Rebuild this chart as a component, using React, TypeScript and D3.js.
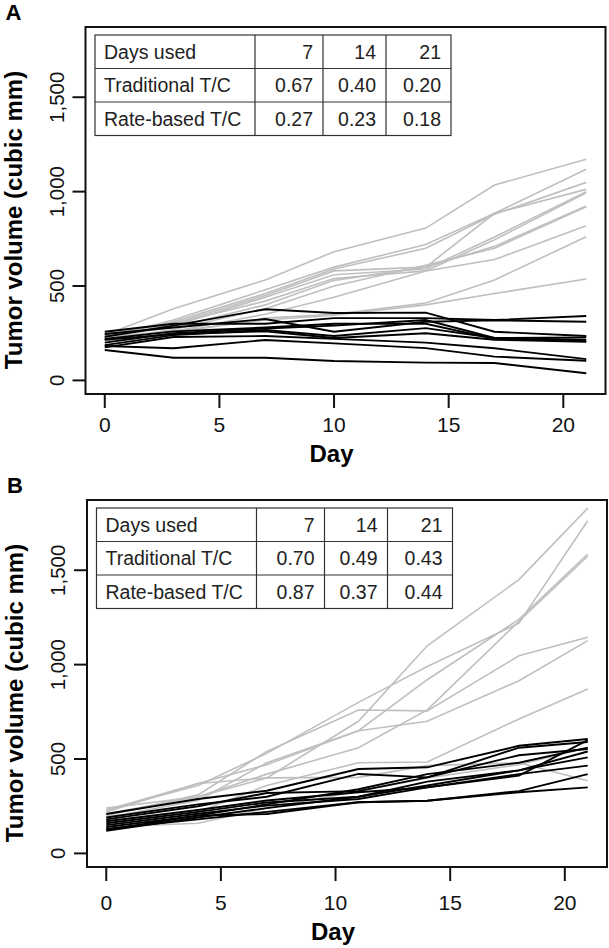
import React from "react";
import * as d3 from "d3";

// ---------- data ----------
const daysA = [0, 3, 7, 10, 14, 17, 21];
const daysB = [0, 4, 7, 11, 14, 18, 21];

const controlA: number[][] = [
  [240, 380, 532, 682, 807, 1035, 1171],
  [230, 320, 480, 600, 720, 885, 1118],
  [235, 310, 460, 590, 700, 880, 1049],
  [245, 300, 450, 580, 600, 885, 1012],
  [220, 290, 440, 560, 590, 760, 999],
  [225, 300, 420, 540, 580, 745, 994],
  [240, 280, 400, 530, 600, 710, 924],
  [215, 270, 380, 500, 610, 700, 920],
  [230, 260, 350, 440, 580, 640, 819],
  [210, 250, 330, 350, 410, 532, 761],
  [225, 260, 320, 345, 400, 460, 537],
];

const treatedA: number[][] = [
  [231, 290, 377, 357, 359, 258, 235],
  [246, 280, 325, 258, 311, 318, 311],
  [258, 300, 300, 330, 330, 320, 341],
  [219, 260, 280, 300, 300, 220, 208],
  [187, 240, 267, 235, 277, 225, 228],
  [175, 230, 235, 220, 200, 170, 113],
  [161, 120, 120, 103, 94, 92, 38],
  [182, 170, 214, 196, 171, 126, 104],
  [200, 250, 275, 290, 320, 225, 215],
  [215, 245, 260, 225, 250, 215, 205],
];

const controlB: number[][] = [
  [240, 300, 400, 700, 1100, 1450, 1829],
  [230, 360, 530, 800, 990, 1220, 1762],
  [220, 370, 470, 650, 920, 1240, 1586],
  [210, 300, 420, 560, 760, 1230, 1574],
  [200, 310, 540, 760, 755, 1047, 1145],
  [190, 280, 480, 650, 700, 915, 1127],
  [170, 220, 360, 480, 484, 712, 871],
  [230, 370, 400, 403, 465, 480, 385],
  [140, 160, 240, 330, 400, 470, 560],
];

const treatedB: number[][] = [
  [209, 288, 332, 447, 456, 570, 606],
  [190, 260, 300, 421, 403, 560, 590],
  [180, 250, 320, 330, 403, 520, 553],
  [170, 230, 280, 324, 350, 412, 600],
  [160, 220, 270, 300, 380, 440, 509],
  [150, 210, 253, 288, 350, 420, 465],
  [140, 200, 209, 271, 279, 324, 350],
  [130, 180, 220, 271, 279, 330, 420],
  [125, 200, 260, 340, 420, 480, 560],
  [120, 190, 240, 300, 360, 440, 540],
];

const xTicks = [0, 5, 10, 15, 20];
const yTicks = [0, 500, 1000, 1500];

const tableHeader = ["Days used", "7", "14", "21"];
const tableRowNames = ["Traditional T/C", "Rate-based T/C"];
const tableA = [
  ["0.67", "0.40", "0.20"],
  ["0.27", "0.23", "0.18"],
];
const tableB = [
  ["0.70", "0.49", "0.43"],
  ["0.87", "0.37", "0.44"],
];

// ---------- layout ----------
const FONT = "'Liberation Sans', Arial, Helvetica, sans-serif";
const BOX_W = 520;
const BOX_H = 367;
const colW = [160, 68, 63, 65];
const rowH = 33.5;

type PanelProps = {
  ox: number;
  oy: number;
  label: string;
  days: number[];
  control: number[][];
  treated: number[][];
  table: string[][];
  labelGap: number;
};

function Panel({ ox, oy, label, days, control, treated, table, labelGap }: PanelProps) {
  const x = d3.scaleLinear().domain([-0.84, 21.84]).range([ox, ox + BOX_W]);
  const y = d3.scaleLinear().domain([-72, 1872]).range([oy + BOX_H, oy]);
  const line = d3
    .line<number>()
    .x((_, i) => x(days[i]))
    .y((v) => y(v));
  const fmt = d3.format(",");
  const bottom = oy + BOX_H;
  const tx = ox + 9.5;
  const ty = oy + 8;
  const colX: number[] = [tx];
  colW.forEach((w) => colX.push(colX[colX.length - 1] + w));
  const rows = [tableHeader, ...table.map((r, i) => [tableRowNames[i], ...r])];

  return (
    <g>
      <text x={ox - 80} y={oy - 7} fontFamily={FONT} fontWeight="bold" fontSize={22}>
        {label}
      </text>
      {control.map((s, i) => (
        <path key={"c" + i} d={line(s) || ""} fill="none" stroke="#bfbfbf" strokeWidth={1.6} />
      ))}
      {treated.map((s, i) => (
        <path key={"t" + i} d={line(s) || ""} fill="none" stroke="#000" strokeWidth={1.9} />
      ))}
      <rect x={ox} y={oy} width={BOX_W} height={BOX_H} fill="none" stroke="#111" strokeWidth={2} />
      {/* x axis */}
      {xTicks.map((t) => (
        <g key={"x" + t}>
          <line x1={x(t)} x2={x(t)} y1={bottom} y2={bottom + 14} stroke="#111" strokeWidth={2} />
          <text
            x={x(t)}
            y={bottom + labelGap}
            textAnchor="middle"
            fontFamily={FONT}
            fontSize={21}
            fill="#111"
          >
            {t}
          </text>
        </g>
      ))}
      <text
        x={ox + 246}
        y={bottom + labelGap + 30}
        textAnchor="middle"
        fontFamily={FONT}
        fontWeight="bold"
        fontSize={24}
      >
        Day
      </text>
      {/* y axis */}
      {yTicks.map((t) => (
        <g key={"y" + t}>
          <line x1={ox - 13} x2={ox} y1={y(t)} y2={y(t)} stroke="#111" strokeWidth={2} />
          <text
            transform={`translate(${ox - 22},${y(t)}) rotate(-90)`}
            textAnchor="middle"
            fontFamily={FONT}
            fontSize={20.5}
            fill="#111"
          >
            {fmt(t)}
          </text>
        </g>
      ))}
      <text
        transform={`translate(${ox - 64},${oy + 193}) rotate(-90)`}
        textAnchor="middle"
        fontFamily={FONT}
        fontWeight="bold"
        fontSize={24}
      >
        Tumor volume (cubic mm)
      </text>
      {/* table */}
      <rect x={tx} y={ty} width={colX[4] - tx} height={rowH * 3} fill="#fff" stroke="#333" strokeWidth={1.2} />
      {[1, 2].map((r) => (
        <line key={"r" + r} x1={tx} x2={colX[4]} y1={ty + r * rowH} y2={ty + r * rowH} stroke="#333" strokeWidth={1.2} />
      ))}
      {[1, 2, 3].map((c) => (
        <line key={"c" + c} x1={colX[c]} x2={colX[c]} y1={ty} y2={ty + 3 * rowH} stroke="#333" strokeWidth={1.2} />
      ))}
      {rows.map((row, r) =>
        row.map((cell, c) => (
          <text
            key={r + "-" + c}
            x={c === 0 ? colX[0] + 9 : colX[c + 1] - 10}
            y={ty + r * rowH + rowH / 2 + 7}
            textAnchor={c === 0 ? "start" : "end"}
            fontFamily={FONT}
            fontSize={19.5}
            fill="#222"
          >
            {cell}
          </text>
        ))
      )}
    </g>
  );
}

export default function App() {
  return (
    <svg
      width={609}
      height={948}
      style={{ position: "absolute", left: 0, top: 0, background: "#fff" }}
    >
      <rect width={609} height={948} fill="#fff" />
      <Panel ox={85.5} oy={27} label="A" days={daysA} control={controlA} treated={treatedA} table={tableA} labelGap={38} />
      <Panel ox={87} oy={500} label="B" days={daysB} control={controlB} treated={treatedB} table={tableB} labelGap={43} />
    </svg>
  );
}
